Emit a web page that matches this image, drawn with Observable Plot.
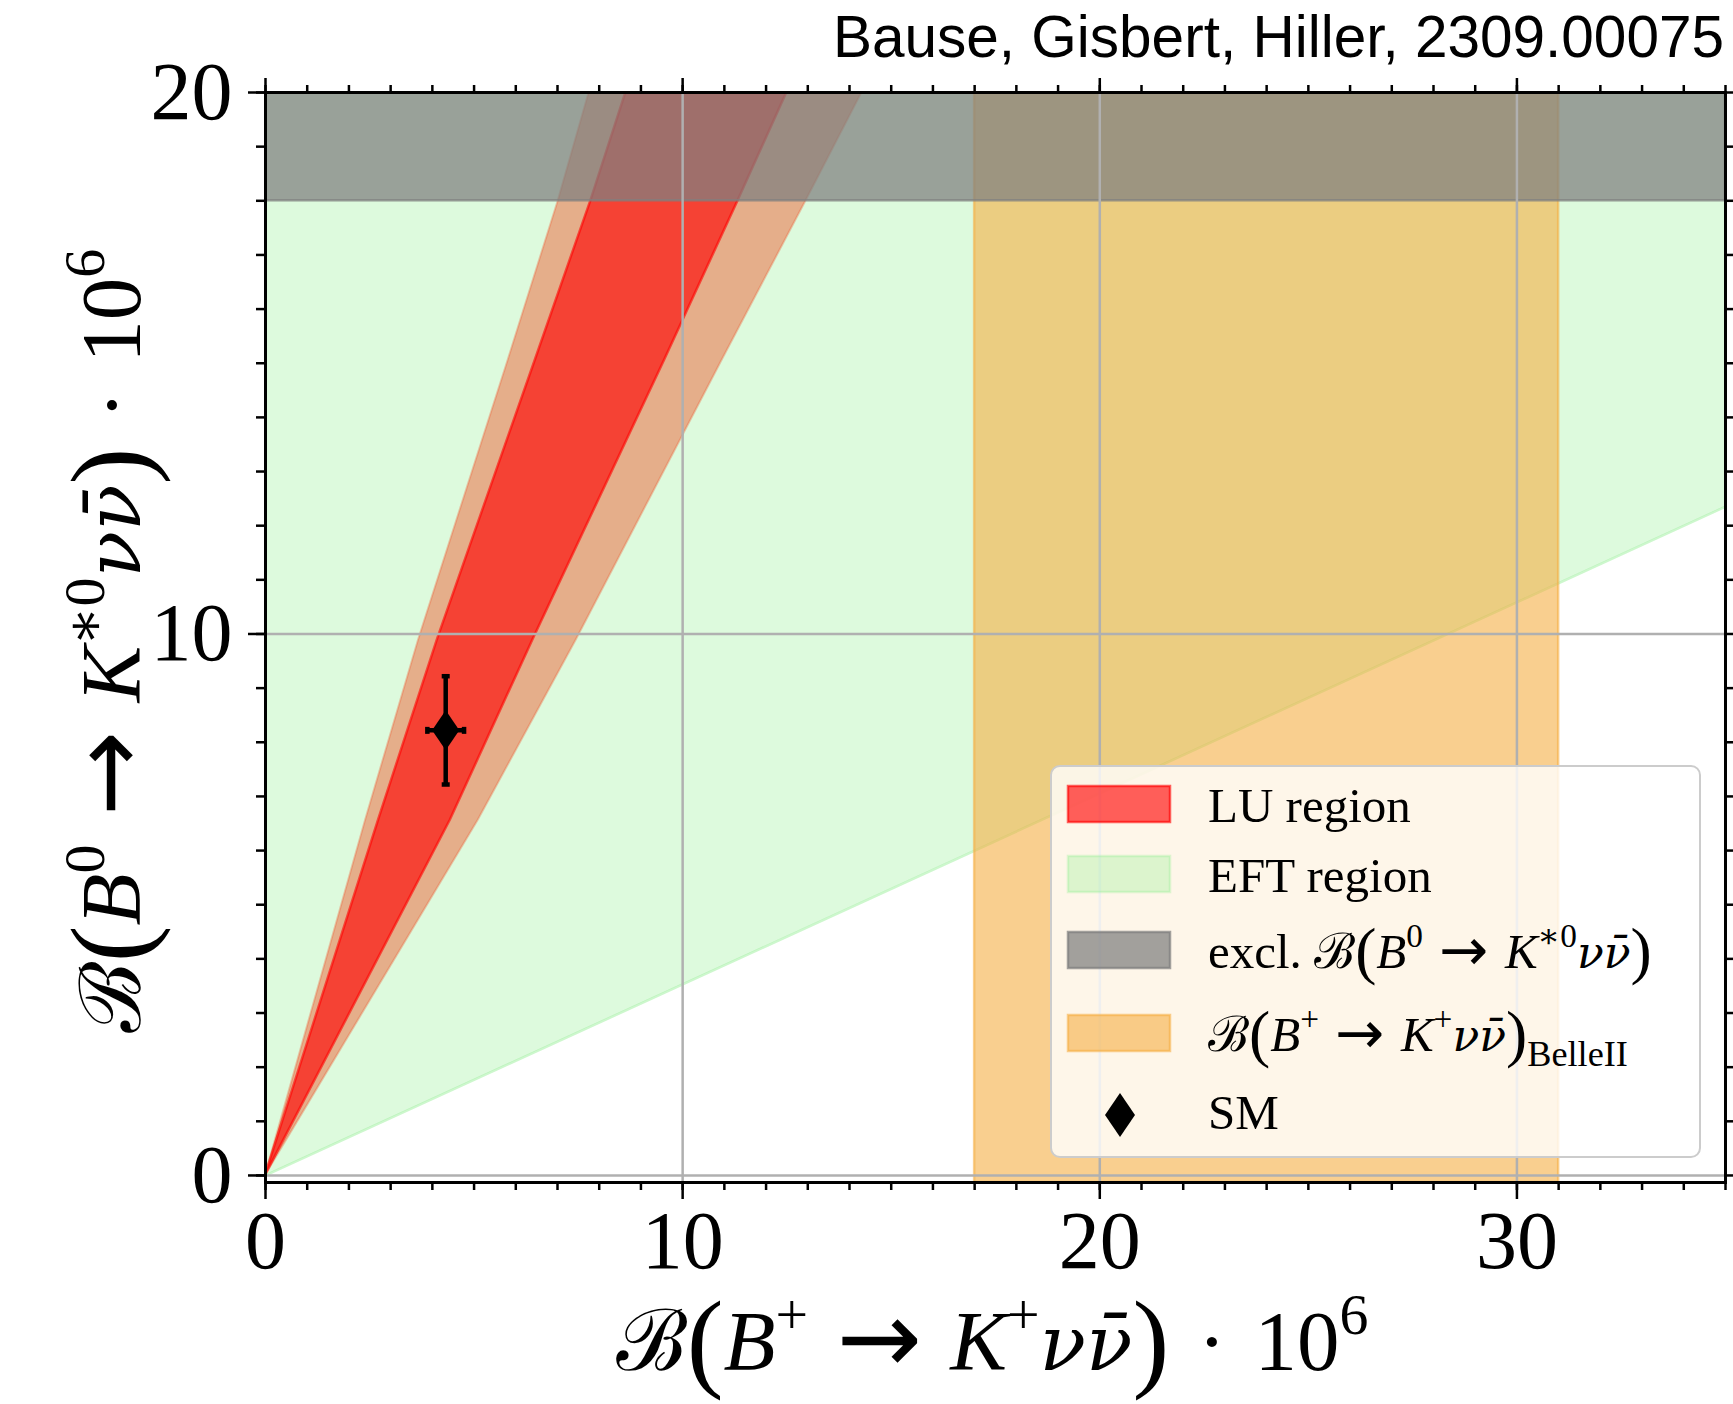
<!DOCTYPE html>
<html>
<head>
<meta charset="utf-8">
<script src="https://cdn.jsdelivr.net/npm/d3@7"></script>
<script src="https://cdn.jsdelivr.net/npm/@observablehq/plot@0.6"></script>
<style>
  html, body { margin: 0; padding: 0; background: #fff; }
  #chart { position: relative; width: 1733px; height: 1404px; }
</style>
</head>
<body>
<div id="chart"></div>
<script>
// All branching ratios in units of 1e-6.
const xMajorTicks = [0, 10, 20, 30];
const yMajorTicks = [0, 10, 20];

// EFT region: everything above the minimal-ratio line
const eftX    = [0, 35];
const eftLow  = [0, 12.35];
const eftHigh = [20, 20];

// Lepton-universality (LU) region, boundaries sampled along y:
// inner = central band, outer = band including uncertainties
const luY          = [0, 6.56, 9.89, 15.06, 18, 20];
const luOuterLeft  = [0, 2.40, 3.67, 5.82, 7.02, 7.76];
const luInnerLeft  = [0, 2.71, 4.12, 6.47, 7.80, 8.64];
const luInnerRight = [0, 4.43, 6.41, 9.57, 11.33, 12.5];
const luOuterRight = [0, 5.10, 7.45, 10.95, 12.96, 14.3];

// Upper limit on B(B0 -> K*0 nu nubar): excluded above 18
const exclLow = [18];
const exclHigh = [20];

// Belle II measurement of B(B+ -> K+ nu nubar)
const belleLow = [17];
const belleHigh = [31];

// Standard Model prediction
const smX = [4.32], smXErr = [0.44];
const smY = [8.22], smYErr = [1.0];

const COLORS = {
  eft:   { c: "#90ee90", o: 0.3 },
  belle: { c: "#f5af44", o: 0.6 },
  band:  { c: "#ee6138", o: 0.5 },
  lu:    { c: "#ff0000", o: 0.62 },
  excl:  { c: "#808080", o: 0.73 },
  grid: "#b0b0b0"
};
const SERIF = "'Liberation Serif', 'DejaVu Serif', serif";

const eft = eftX.map((x, i) => ({x, lo: eftLow[i], hi: eftHigh[i]}));
const lu = luY.map((y, i) => ({y, il: luInnerLeft[i], ir: luInnerRight[i], ol: luOuterLeft[i], or: luOuterRight[i]}));
const excl = exclLow.map((y1, i) => ({y1, y2: exclHigh[i]}));
const belle = belleLow.map((x1, i) => ({x1, x2: belleHigh[i]}));
const sm = smX.map((x, i) => ({x, xe: smXErr[i], y: smY[i], ye: smYErr[i]}));

// custom symbols: size = pi r^2
const rOf = size => Math.sqrt(size / Math.PI);
const hCap = { draw(ctx, size) { const r = rOf(size); ctx.moveTo(-r, 0); ctx.lineTo(r, 0); } };
const vCap = { draw(ctx, size) { const r = rOf(size); ctx.moveTo(0, -r); ctx.lineTo(0, r); } };
const thinDiamond = { draw(ctx, size) {
  const h = rOf(size), w = h * 0.68;
  ctx.moveTo(0, -h); ctx.lineTo(w, 0); ctx.lineTo(0, h); ctx.lineTo(-w, 0); ctx.closePath();
} };

const unitTicksX = d3.range(0, 36);
const unitTicksY = d3.range(0, 21);
const axisStyle = { strokeWidth: 2.5, stroke: "black" };
const intFormat = d3.format("d");

const plot = Plot.plot({
  width: 1733,
  height: 1404,
  marginTop: 92,
  marginBottom: 222,
  marginLeft: 265,
  marginRight: 8,
  style: { background: "white", fontFamily: SERIF, color: "black" },
  x: { domain: [0, 35], label: null },
  y: { domain: [-0.13, 20], label: null },
  marks: [
    // EFT region
    Plot.areaY(eft, { x: "x", y1: "lo", y2: "hi", fill: COLORS.eft.c, fillOpacity: COLORS.eft.o, clip: true }),
    Plot.line(eft, { x: "x", y: "lo", stroke: COLORS.eft.c, strokeOpacity: 0.45, strokeWidth: 2.5, clip: true }),
    // Belle II band
    Plot.rect(belle, { x1: "x1", x2: "x2", fill: COLORS.belle.c, fillOpacity: COLORS.belle.o,
                       stroke: COLORS.belle.c, strokeOpacity: COLORS.belle.o, strokeWidth: 2.5, clip: true }),
    // LU region with uncertainties, then central LU region
    Plot.areaX(lu, { y: "y", x1: "ol", x2: "or", fill: COLORS.band.c, fillOpacity: COLORS.band.o,
                     stroke: COLORS.band.c, strokeOpacity: 0.35, strokeWidth: 2, clip: true }),
    Plot.areaX(lu, { y: "y", x1: "il", x2: "ir", fill: COLORS.lu.c, fillOpacity: COLORS.lu.o,
                     stroke: COLORS.lu.c, strokeOpacity: 0.6, strokeWidth: 2.5, clip: true }),
    // excluded by the experimental limit
    Plot.rect(excl, { y1: "y1", y2: "y2", fill: COLORS.excl.c, fillOpacity: COLORS.excl.o,
                      stroke: COLORS.excl.c, strokeOpacity: COLORS.excl.o, strokeWidth: 2.5, clip: true }),
    // grid
    Plot.gridX(xMajorTicks, { stroke: COLORS.grid, strokeOpacity: 1, strokeWidth: 2.5 }),
    Plot.gridY(yMajorTicks, { stroke: COLORS.grid, strokeOpacity: 1, strokeWidth: 2.5 }),
    // axes: minor + major ticks on all four sides
    Plot.axisX(unitTicksX, { anchor: "bottom", tickSize: 8, tickFormat: () => "", ...axisStyle }),
    Plot.axisX(xMajorTicks, { anchor: "bottom", tickSize: 17, tickPadding: 10, fontSize: 82, tickFormat: intFormat, ...axisStyle }),
    Plot.axisX(unitTicksX, { anchor: "top", tickSize: 8, tickFormat: () => "", ...axisStyle }),
    Plot.axisX(xMajorTicks, { anchor: "top", tickSize: 15, tickFormat: () => "", ...axisStyle }),
    Plot.axisY(unitTicksY, { anchor: "left", tickSize: 9, tickFormat: () => "", ...axisStyle }),
    Plot.axisY(yMajorTicks, { anchor: "left", tickSize: 17, tickPadding: 16, fontSize: 82, tickFormat: intFormat, ...axisStyle }),
    Plot.axisY(unitTicksY, { anchor: "right", tickSize: 8, tickFormat: () => "", ...axisStyle }),
    Plot.frame({ stroke: "black", strokeWidth: 3 }),
    // SM point with error bars
    Plot.ruleX(sm, { x: "x", y1: d => d.y - d.ye, y2: d => d.y + d.ye, stroke: "black", strokeWidth: 4.5 }),
    Plot.ruleY(sm, { y: "y", x1: d => d.x - d.xe, x2: d => d.x + d.xe, stroke: "black", strokeWidth: 4.5 }),
    Plot.dot(sm, { x: "x", y: d => d.y - d.ye, symbol: hCap, r: 4, stroke: "black", strokeWidth: 4.5 }),
    Plot.dot(sm, { x: "x", y: d => d.y + d.ye, symbol: hCap, r: 4, stroke: "black", strokeWidth: 4.5 }),
    Plot.dot(sm, { x: d => d.x - d.xe, y: "y", symbol: vCap, r: 3.5, stroke: "black", strokeWidth: 4.5 }),
    Plot.dot(sm, { x: d => d.x + d.xe, y: "y", symbol: vCap, r: 3.5, stroke: "black", strokeWidth: 4.5 }),
    Plot.dot(sm, { x: "x", y: "y", symbol: thinDiamond, r: 20, fill: "black", stroke: "none" })
  ]
});

document.getElementById("chart").appendChild(plot);
const svg = d3.select(plot);

// Rich math-like text: parts with italic / superscript / subscript / scale / font
function mathText(parent, x, y, size, parts, anchor = "start") {
  const t = parent.append("text")
    .attr("x", x).attr("y", y)
    .attr("font-size", size)
    .attr("font-family", SERIF)
    .attr("fill", "black")
    .attr("text-anchor", anchor);
  let shift = 0;
  for (const p of parts) {
    const target = p.sup ? -0.42 * size : p.sub ? 0.3 * size : (p.dy || 0) * size;
    const ts = t.append("tspan").attr("dy", target - shift).text(p.t);
    shift = target;
    if (p.sup || p.sub) ts.attr("font-size", size * (p.scale || 0.68));
    else if (p.scale) ts.attr("font-size", size * p.scale);
    if (p.it) ts.attr("font-style", "italic");
    if (p.font) ts.attr("font-family", p.font);
  }
  return t;
}

// B(B -> K nu nubar) written out
function decay(parentCharge, daughterCharge) {
  return [
    { t: "ℬ" },
    { t: "(", scale: 1.3, dy: 0.08 },
    { t: "B", it: true },
    { t: parentCharge, sup: true },
    { t: "\u2004" },
    { t: "→", font: "'DejaVu Sans', sans-serif", scale: 1.2, dy: 0.04 },
    { t: "\u2004" },
    { t: "K", it: true },
    { t: daughterCharge, sup: true },
    { t: "νν̄", it: true, font: "'DejaVu Serif', serif", scale: 0.9 },
    { t: ")", scale: 1.3, dy: 0.08 }
  ];
}
const timesTen6 = [{ t: "\u2004·\u200410" }, { t: "6", sup: true }];

// title
svg.append("text")
  .attr("x", 1724).attr("y", 57)
  .attr("text-anchor", "end")
  .attr("font-family", "'Liberation Sans', Arial, sans-serif")
  .attr("font-size", 58.5)
  .attr("fill", "black")
  .text("Bause, Gisbert, Hiller, 2309.00075");

// axis labels
mathText(svg, 992, 1370, 85, [...decay("+", "+"), ...timesTen6], "middle");

const yl = svg.append("g").attr("transform", "translate(140, 641) rotate(-90)");
mathText(yl, 0, 0, 85, [...decay("0", "∗0"), ...timesTen6], "middle");

// legend
const lg = svg.append("g");
lg.append("rect")
  .attr("x", 1051).attr("y", 766).attr("width", 649).attr("height", 391)
  .attr("rx", 9).attr("ry", 9)
  .attr("fill", "white").attr("fill-opacity", 0.8)
  .attr("stroke", "#cccccc").attr("stroke-width", 2);

const legendItems = [
  { key: "lu",    y: 786,  parts: [{ t: "LU region" }] },
  { key: "eft",   y: 856,  parts: [{ t: "EFT region" }] },
  { key: "excl",  y: 932,  parts: [{ t: "excl. " }, ...decay("0", "∗0")] },
  { key: "belle", y: 1015, parts: [...decay("+", "+"), { t: "BelleII", sub: true, scale: 0.74 }] }
];
for (const it of legendItems) {
  const col = COLORS[it.key];
  lg.append("rect")
    .attr("x", 1068).attr("y", it.y).attr("width", 102).attr("height", 36)
    .attr("fill", col.c).attr("fill-opacity", col.o)
    .attr("stroke", col.c).attr("stroke-opacity", col.o).attr("stroke-width", 2.5);
  mathText(lg, 1208, it.y + 36, 49, it.parts);
}
lg.append("path")
  .attr("d", "M1120,1093 L1135,1115 L1120,1137 L1105,1115 Z")
  .attr("fill", "black");
mathText(lg, 1208, 1129, 49, [{ t: "SM" }]);
</script>
</body>
</html>
